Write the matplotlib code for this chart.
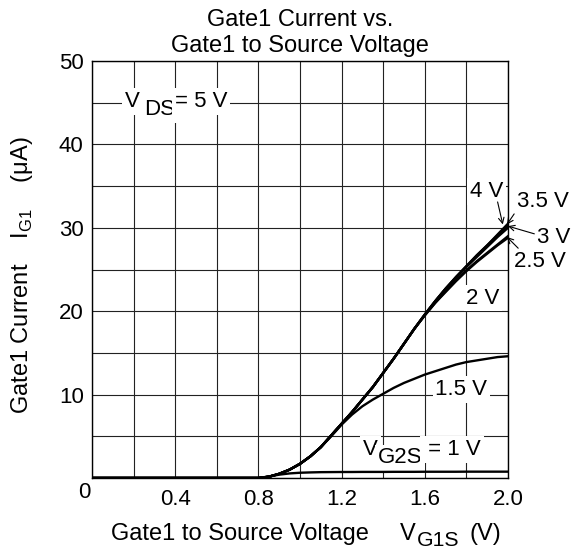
import matplotlib
matplotlib.use("Agg")
import matplotlib.pyplot as plt

# ---- Data ----
# gate1 to source voltage (V)
v_g1s = [0.0, 0.8, 0.85, 0.9, 0.95, 1.0, 1.05, 1.1, 1.15, 1.2, 1.25, 1.3, 1.35,
         1.4, 1.45, 1.5, 1.55, 1.6, 1.65, 1.7, 1.75, 1.8, 1.85, 1.9, 1.95, 2.0]

# gate1 current (uA) for each V_G2S
i_g1_4v = [0, 0, 0.15, 0.5, 1.0, 1.7, 2.6, 3.7, 5.1, 6.5, 7.9, 9.4, 10.9,
           12.6, 14.3, 16.1, 17.9, 19.6, 21.2, 22.7, 24.1, 25.4, 26.7, 27.9, 29.2, 30.5]
i_g1_3v5 = [0, 0, 0.15, 0.5, 1.0, 1.7, 2.6, 3.7, 5.1, 6.5, 7.9, 9.4, 10.9,
            12.6, 14.3, 16.1, 17.9, 19.6, 21.2, 22.7, 24.1, 25.4, 26.7, 27.9, 29.1, 30.3]
i_g1_3v = [0, 0, 0.15, 0.5, 1.0, 1.7, 2.6, 3.7, 5.1, 6.5, 7.9, 9.4, 10.9,
           12.6, 14.3, 16.1, 17.9, 19.6, 21.2, 22.7, 24.0, 25.3, 26.5, 27.7, 28.9, 30.0]
i_g1_2v5 = [0, 0, 0.15, 0.5, 1.0, 1.7, 2.6, 3.7, 5.1, 6.5, 7.9, 9.4, 10.9,
            12.6, 14.3, 16.1, 17.9, 19.5, 21.0, 22.4, 23.7, 24.9, 26.0, 27.0, 28.0, 29.0]
i_g1_2v = [0, 0, 0.15, 0.5, 1.0, 1.7, 2.6, 3.7, 5.1, 6.5, 7.9, 9.4, 10.9,
           12.6, 14.3, 16.1, 17.9, 19.5, 21.0, 22.3, 23.6, 24.8, 25.9, 26.9, 27.9, 28.8]
i_g1_1v5 = [0, 0, 0.15, 0.5, 1.0, 1.7, 2.6, 3.7, 5.0, 6.4, 7.6, 8.6, 9.4,
            10.1, 10.8, 11.4, 11.9, 12.4, 12.8, 13.2, 13.6, 13.9, 14.1, 14.3, 14.5, 14.6]
i_g1_1v = [0, 0, 0.18, 0.4, 0.55, 0.63, 0.67, 0.7, 0.71, 0.72, 0.72, 0.73, 0.73,
           0.73, 0.74, 0.74, 0.74, 0.75, 0.75, 0.75, 0.75, 0.76, 0.76, 0.76, 0.76, 0.76]

x_ticks = [0.4, 0.8, 1.2, 1.6, 2.0]
y_ticks = [10, 20, 30, 40, 50]

plt.rcParams["font.family"] = ["Liberation Sans", "DejaVu Sans"]
plt.rcParams["mathtext.fontset"] = "custom"
plt.rcParams["mathtext.rm"] = "Liberation Sans"

BOX = dict(facecolor="white", edgecolor="none", pad=2)
FS = 16


def chain_text(ax, first, pieces, size, box=True):
    # place pieces one after another, each (text, gap_pt, dy_pt, size_scale)
    prev = first
    for s, gap, dy, scale in pieces:
        prev = ax.annotate(
            s, xy=(1, 0), xycoords=prev, xytext=(gap, dy),
            textcoords="offset points", ha="left", va="bottom",
            fontsize=size * scale, zorder=3,
            bbox=BOX if box else None,
        )
    return prev


fig = plt.figure(figsize=(5.81, 5.5), dpi=100)
ax = fig.add_axes([92 / 581, 1 - 478 / 550, 416 / 581, 417 / 550])

curves = [i_g1_4v, i_g1_3v5, i_g1_3v, i_g1_2v5, i_g1_2v, i_g1_1v5, i_g1_1v]
for ys in curves:
    ax.plot(v_g1s, ys, color="black", lw=1.7, zorder=4)

ax.set_xlim(0, 2.0)
ax.set_ylim(0, 50)
ax.set_xticks([i * 0.2 for i in range(11)])
ax.set_yticks([i * 5 for i in range(11)])
ax.set_xticklabels([f"{t:.1f}" if round(t, 1) in x_ticks else "" for t in ax.get_xticks()])
ax.set_yticklabels([f"{int(t)}" if int(round(t)) in y_ticks else "" for t in ax.get_yticks()])
ax.tick_params(length=0, labelsize=FS)
ax.tick_params(axis="x", pad=8)
ax.tick_params(axis="y", pad=6)
ax.set_axisbelow(True)
ax.grid(True, color="#222222", lw=0.8)
for sp in ax.spines.values():
    sp.set_linewidth(1.0)

# corner zero shared by both axes
fig.text(84 / 581, 1 - 492 / 550, "0", fontsize=FS, ha="center", va="center")

# title
fig.text(300 / 581, 1 - 33 / 550, "Gate1 Current vs.\nGate1 to Source Voltage",
         fontsize=17, ha="center", va="center", linespacing=1.25)

# axis labels
fig.text(22 / 581, 1 - 275 / 550, "Gate1 Current    I$_{\\mathregular{G1}}$    (\u03bcA)",
         fontsize=17, rotation=90, ha="center", va="center")
xl = fig.text(111 / 581, 1 - 540 / 550, "Gate1 to Source Voltage",
              fontsize=17, ha="left", va="baseline")
chain_text(ax, xl, [("V", 22, 0, 1.0), ("G1S", 1.5, -3.5, 0.9), ("(V)", 7, 3.5, 1.0)],
           17, box=False)

# V_DS label
t = ax.text(0.159, 44.5, "V", fontsize=FS, ha="left", va="baseline", bbox=BOX, zorder=3)
chain_text(ax, t, [("DS", 3, -6, 1.0), ("= 5 V", 0, 6, 1.0)], FS)

# V_G2S label
t = ax.text(1.303, 2.76, "V", fontsize=FS, ha="left", va="baseline", bbox=BOX, zorder=3)
chain_text(ax, t, [("G2S", 0, -6, 1.0), (" = 1 V", 0, 6, 1.0)], FS)

# in-plot labels
ax.text(1.65, 9.95, "1.5 V", fontsize=FS, ha="left", va="baseline", bbox=BOX, zorder=3)
ax.text(1.80, 20.9, "2 V", fontsize=FS, ha="left", va="baseline", bbox=BOX, zorder=3)
ax.text(1.817, 33.7, "4 V", fontsize=FS, ha="left", va="baseline", bbox=BOX, zorder=3)

# arrow labels at the curve ends
arrow = dict(arrowstyle="->", lw=0.8, color="black", shrinkA=0, shrinkB=0,
             mutation_scale=10)
ax.annotate("", xy=(1.975, 30.4), xytext=(1.95, 33.1),
            arrowprops=arrow, annotation_clip=False)
ax.annotate("3.5 V", xy=(1.995, 30.4), xytext=(2.043, 32.5), fontsize=FS,
            ha="left", va="baseline", annotation_clip=False,
            arrowprops=dict(arrow, relpos=(0.0, 0.1)))
ax.annotate("3 V", xy=(2.0, 30.2), xytext=(2.14, 28.2), fontsize=FS,
            ha="left", va="baseline", annotation_clip=False,
            arrowprops=dict(arrow, relpos=(-0.05, 0.65)))
ax.annotate("2.5 V", xy=(1.995, 28.9), xytext=(2.03, 25.3), fontsize=FS,
            ha="left", va="baseline", annotation_clip=False,
            arrowprops=dict(arrow, relpos=(0.15, 0.95)))

fig.savefig("out.png", dpi=100)
